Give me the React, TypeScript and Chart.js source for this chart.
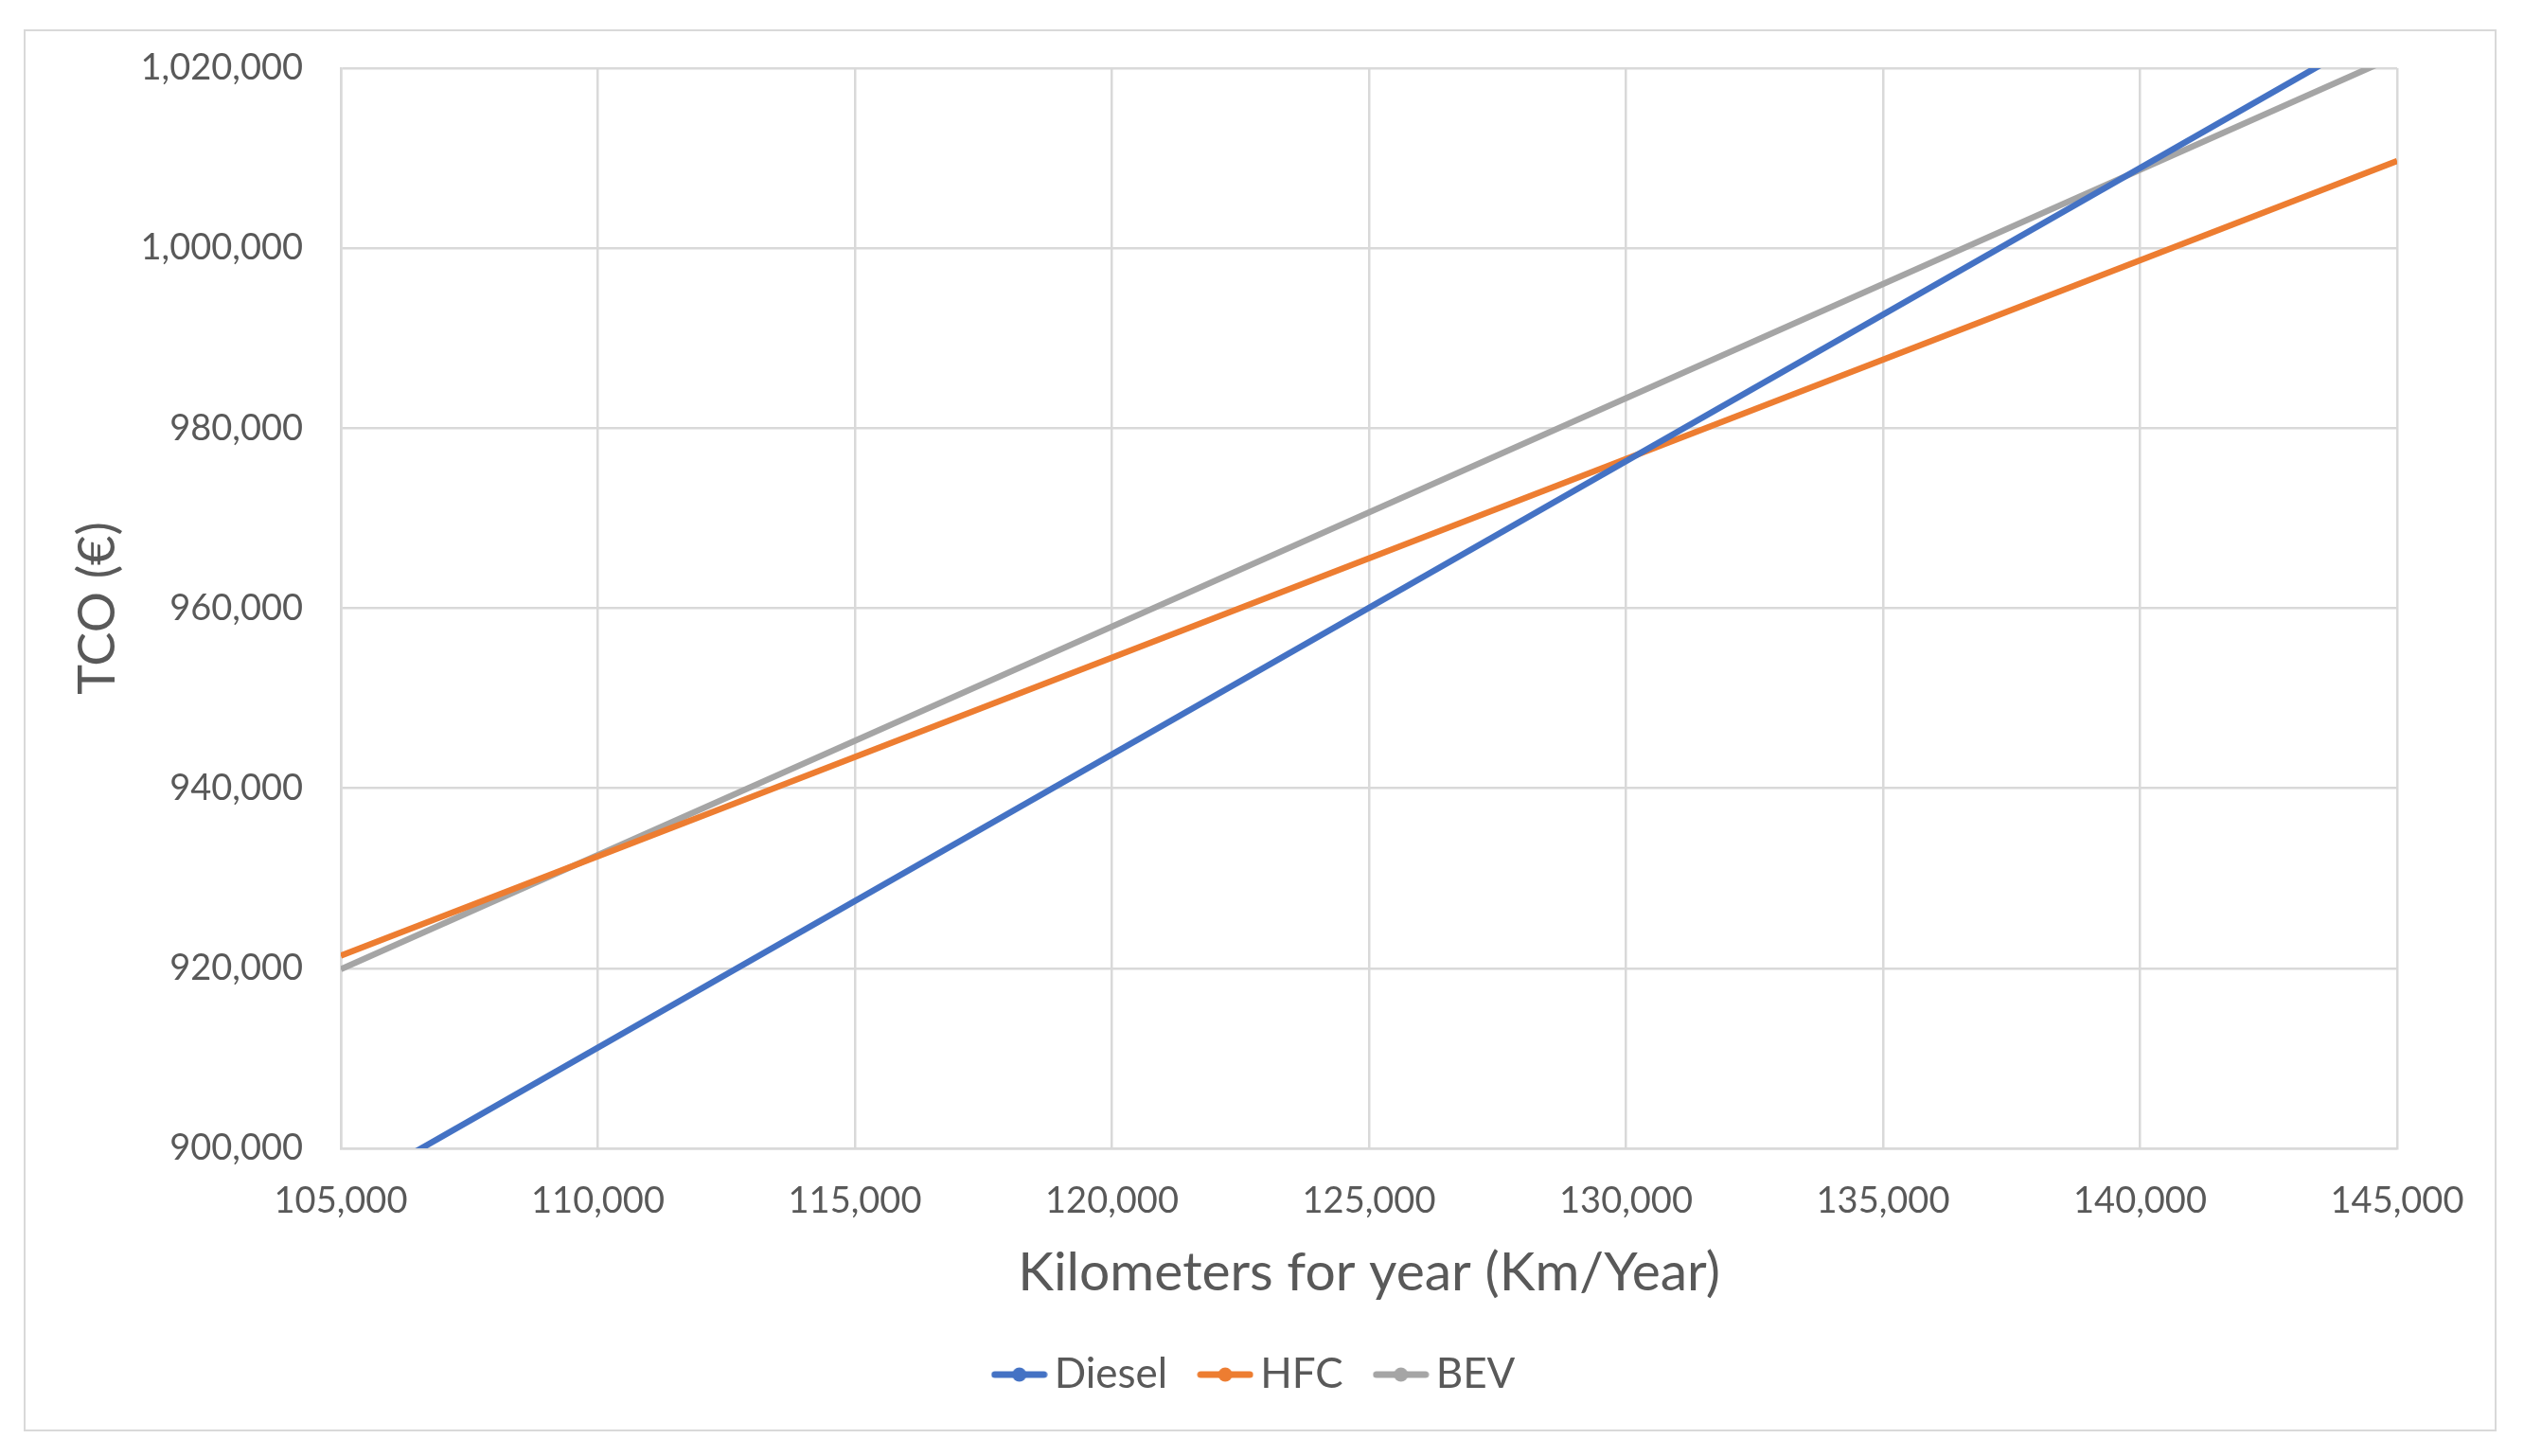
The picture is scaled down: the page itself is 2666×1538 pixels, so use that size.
import React, { useEffect, useRef } from "react";
import { Chart, registerables } from "chart.js";

Chart.register(...registerables);

const kmPerYear = [105000, 145000];
const dieselTco = [894900, 1025200];
const hfcTco = [921400, 1009700];
const bevTco = [919900, 1021400];

const seriesNames = ["Diesel", "HFC", "BEV"];
const seriesColors = ["#4472C4", "#ED7D31", "#A5A5A5"];

const yTicksMin = 900000;
const yTicksMax = 1020000;
const yStep = 20000;
const xTicksMin = 105000;
const xTicksMax = 145000;
const xStep = 5000;

const yTitle = "TCO (€)";
const xTitle = "Kilometers for year (Km/Year)";

const FONT = "Lato, 'Open Sans', sans-serif";
const TEXT = "#595959";
const GRID = "#D9D9D9";

function legendSymbol(color: string): HTMLCanvasElement {
  const c = document.createElement("canvas");
  c.width = 60;
  c.height = 18;
  const ctx = c.getContext("2d")!;
  ctx.strokeStyle = color;
  ctx.lineWidth = 7;
  ctx.lineCap = "round";
  ctx.beginPath();
  ctx.moveTo(4, 9);
  ctx.lineTo(56, 9);
  ctx.stroke();
  ctx.fillStyle = color;
  ctx.beginPath();
  ctx.arc(30, 9, 7.5, 0, Math.PI * 2);
  ctx.fill();
  return c;
}

export default function App() {
  const ref = useRef<HTMLCanvasElement | null>(null);

  useEffect(() => {
    if (!ref.current) return;
    const series = [dieselTco, hfcTco, bevTco];
    const datasets = series.map((vals, i) => ({
      label: seriesNames[i],
      data: kmPerYear.map((x, j) => ({ x, y: vals[j] })),
      borderColor: seriesColors[i],
      backgroundColor: seriesColors[i],
      borderWidth: 6.5,
      pointRadius: 0,
      pointHoverRadius: 0,
      pointStyle: legendSymbol(seriesColors[i]) as any,
      tension: 0,
      clip: 0,
    }));

    const chart = new Chart(ref.current, {
      type: "line",
      data: { datasets },
      options: {
        animation: false,
        responsive: true,
        maintainAspectRatio: false,
        layout: { padding: { left: 0, right: 0, top: 39, bottom: 26 } },
        plugins: {
          tooltip: { enabled: false },
          legend: {
            display: true,
            position: "bottom",
            labels: {
              usePointStyle: true,
              pointStyleWidth: 30,
              padding: 46,
              color: TEXT,
              font: { family: FONT, size: 44 },
            },
          },
        },
        scales: {
          x: {
            type: "linear",
            min: xTicksMin,
            max: xTicksMax,
            afterFit: (s: any) => {
              s.height = 171;
              s.paddingRight = 103;
            },
            ticks: {
              stepSize: xStep,
              padding: 33,
              color: TEXT,
              font: { family: FONT, size: 38 },
              callback: (v: any) => Number(v).toLocaleString("en-US"),
            },
            grid: { color: GRID, lineWidth: 2.5, drawTicks: false },
            border: { color: GRID, width: 2.5 },
            title: {
              display: true,
              text: xTitle,
              color: TEXT,
              font: { family: FONT, size: 57 },
              padding: { top: 0, bottom: 5 },
            },
          },
          y: {
            type: "linear",
            min: yTicksMin,
            max: yTicksMax,
            afterFit: (s: any) => {
              s.width = 333;
              s.paddingTop = 0;
              s.paddingBottom = 0;
            },
            ticks: {
              stepSize: yStep,
              padding: 40,
              color: TEXT,
              font: { family: FONT, size: 38 },
              callback: (v: any) => Number(v).toLocaleString("en-US"),
            },
            grid: { color: GRID, lineWidth: 2.5, drawTicks: false },
            border: { color: GRID, width: 2.5 },
            title: {
              display: true,
              text: yTitle,
              color: TEXT,
              font: { family: FONT, size: 54 },
              padding: { top: 44, bottom: 0 },
            },
          },
        },
      },
    });
    return () => chart.destroy();
  }, []);

  return (
    <div
      style={{
        position: "absolute",
        left: 25,
        top: 31,
        width: 2612,
        height: 1481,
        border: "2px solid #D9D9D9",
        boxSizing: "border-box",
        background: "#fff",
      }}
    >
      <div style={{ position: "relative", width: "100%", height: "100%" }}>
        <canvas ref={ref} />
      </div>
    </div>
  );
}
